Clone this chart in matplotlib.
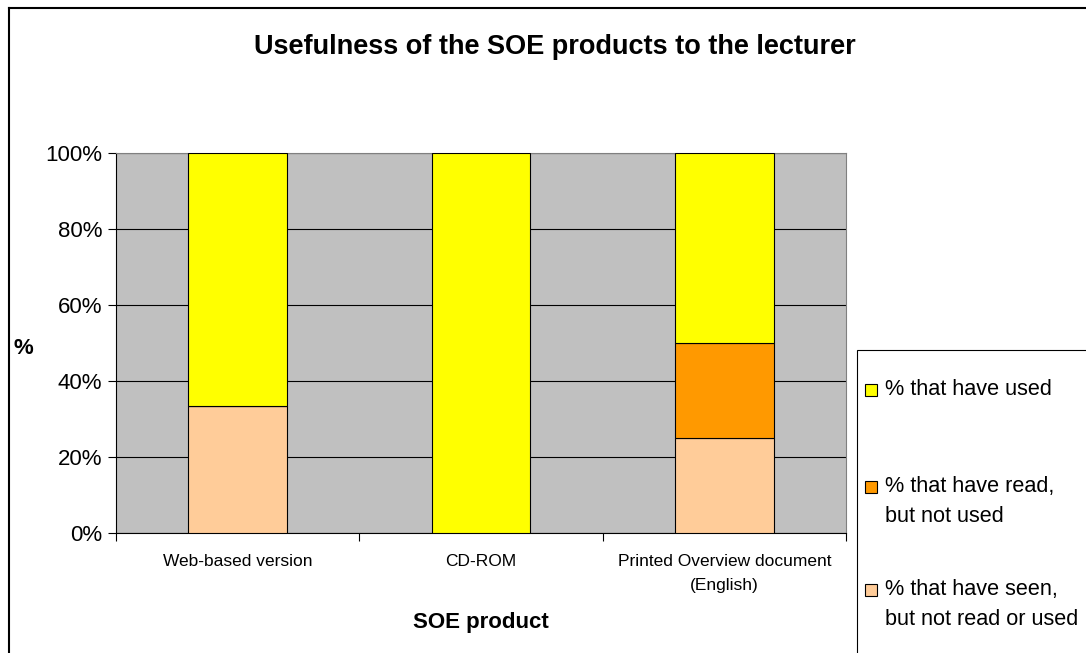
import matplotlib
matplotlib.use('Agg')
import matplotlib.pyplot as plt
from matplotlib.patches import Rectangle
from matplotlib.lines import Line2D
from matplotlib.ticker import PercentFormatter

plt.rcParams['font.family'] = ['Liberation Sans', 'DejaVu Sans']

products = ['Web-based version', 'CD-ROM', 'Printed Overview document\n(English)']
seen = [33.3, 0, 25]
read = [0, 0, 25]
used = [66.7, 100, 50]

series_labels = ['% that have used', '% that have read,\nbut not used', '% that have seen,\nbut not read or used']
colors = ['#FFFF00', '#FF9900', '#FFCC99']

W, H = 1086, 653
fig = plt.figure(figsize=(W / 100, H / 100), dpi=100)
ax = fig.add_axes([116 / W, 1 - 533 / H, 730 / W, 380 / H])
ax.set_facecolor('#C0C0C0')

x = range(len(products))
bw = 0.405
ax.bar(x, seen, bw, color=colors[2], edgecolor='black', linewidth=0.8, zorder=3)
ax.bar(x, read, bw, bottom=seen, color=colors[1], edgecolor='black', linewidth=0.8, zorder=3)
bottoms = [s + r for s, r in zip(seen, read)]
ax.bar(x, used, bw, bottom=bottoms, color=colors[0], edgecolor='black', linewidth=0.8, zorder=3)

ax.set_xlim(-0.5, 2.5)
ax.set_ylim(0, 100)
ax.set_yticks(range(0, 101, 20))
ax.yaxis.set_major_formatter(PercentFormatter(decimals=0))
ax.grid(axis='y', color='black', linewidth=0.8, zorder=1)
ax.set_xticks(x)
ax.set_xticklabels(products, fontsize=12.5)
for t in ax.get_xticklabels():
    t.set_linespacing(1.75)
ax.tick_params(axis='x', length=0, pad=15)
ax.set_xticks([-0.5, 0.5, 1.5, 2.5], minor=True)
ax.tick_params(axis='x', which='minor', length=6, direction='out', width=0.8, colors='black')
ax.tick_params(axis='y', length=6, width=0.8, labelsize=16, pad=4)
ax.spines['left'].set_color('black')
ax.spines['bottom'].set_color('black')
ax.spines['left'].set_linewidth(0.8)
ax.spines['bottom'].set_linewidth(0.8)
ax.spines['top'].set_color('#808080')
ax.spines['right'].set_color('#808080')

ax.set_xlabel('SOE product', fontsize=16, fontweight='bold', labelpad=14)
fig.text(13 / W, 1 - 348 / H, '%', fontsize=16, fontweight='bold', ha='left', va='center')
fig.text(555 / W, 1 - 47 / H, 'Usefulness of the SOE products to the lecturer',
         fontsize=19.5, fontweight='bold', ha='center', va='center')

# chart outline
fig.add_artist(Line2D([9 / W, 1], [1 - 8 / H, 1 - 8 / H], transform=fig.transFigure, color='black', linewidth=1.5))
fig.add_artist(Line2D([9 / W, 9 / W], [0, 1 - 8 / H], transform=fig.transFigure, color='black', linewidth=1.5))

# legend box
fig.add_artist(Rectangle((857 / W, -0.01), 1, (1 - 350 / H) + 0.01, transform=fig.transFigure,
                         facecolor='white', edgecolor='black', linewidth=0.8))
legend_y = [390, 487, 590]
for lab, c, yy in zip(series_labels, colors, legend_y):
    fig.add_artist(Rectangle((865 / W, 1 - (yy + 6) / H), 12 / W, 12 / H, transform=fig.transFigure,
                             facecolor=c, edgecolor='black', linewidth=0.8))
    fig.text(885 / W, 1 - (yy - 11) / H, lab, fontsize=15.6, ha='left', va='top', linespacing=1.55)

fig.savefig('out.png', dpi=100)
